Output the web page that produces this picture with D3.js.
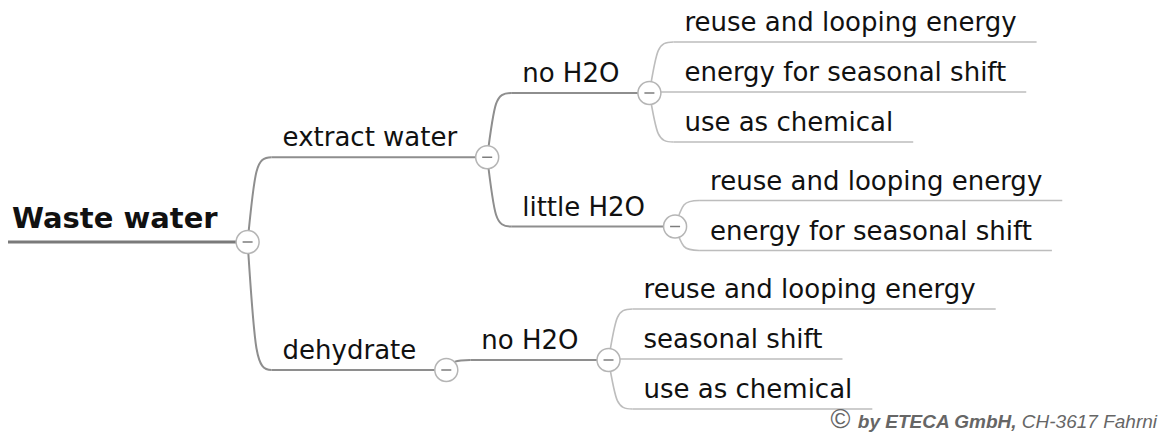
<!DOCTYPE html>
<html>
<head>
<meta charset="utf-8">
<script src="https://cdn.jsdelivr.net/npm/d3@7"></script>
<style>
  body { margin: 0; background: #fff; }
  svg { display: block; }
</style>
</head>
<body>
<div id="mindmap"></div>
<script>
// topic labels, one list per level
var rootLabel = "Waste water";
var mainTopics = ["extract water", "dehydrate"];
var subTopics = [["no H2O", "little H2O"], ["no H2O"]];
var leafTopics = [
  [["reuse and looping energy", "energy for seasonal shift", "use as chemical"],
   ["reuse and looping energy", "energy for seasonal shift"]],
  [["reuse and looping energy", "seasonal shift", "use as chemical"]]
];
var copyrightBold = "by ETECA GmbH,";
var copyrightRest = " CH-3617 Fahrni";

var width = 1162, height = 439;

var svg = d3.select("#mindmap")
  .append("svg")
    .attr("width", width)
    .attr("height", height);

// build the tree from the label lists
var treeData = {
  name: rootLabel,
  children: mainTopics.map(function(m, i) {
    return {
      name: m,
      children: subTopics[i].map(function(s, j) {
        return {
          name: s,
          children: leafTopics[i][j].map(function(l) { return {name: l}; })
        };
      })
    };
  })
};
var root = d3.hierarchy(treeData);

// leaves stacked in slots, small extra gap between sibling groups
var groupGap = 0.17;
var leaves = root.leaves();
var group = -1, lastParent = null;
leaves.forEach(function(d, i) {
  if (d.parent !== lastParent) { group++; lastParent = d.parent; }
  d.slot = i + group * groupGap;
});
var maxSlot = d3.max(leaves, function(d) { return d.slot; });
var y = d3.scaleLinear()
  .domain([0, maxSlot])
  .range([42, 42 + maxSlot * 50]);

// a parent sits centred on the block of its children, line at box bottom
var textH = 35;
var drop = [34, 28.5, 18.5];
root.eachAfter(function(d) {
  if (!d.children) { d.ly = y(d.slot); return; }
  var ls = d.leaves();
  var top = ls[0].ly - textH, bottom = ls[ls.length - 1].ly;
  d.ly = (top + bottom) / 2 + drop[d.depth];
});

var fontFamily = "'DejaVu Sans', sans-serif";
var gLinks = svg.append("g");
var gLines = svg.append("g");
var gNodes = svg.append("g");

// labels first so widths can be measured
var labels = gNodes.selectAll("text.topic")
  .data(root.descendants())
  .enter()
  .append("text")
    .attr("class", "topic")
    .style("font-family", fontFamily)
    .style("font-size", function(d) { return d.depth === 0 ? "29px" : "26px"; })
    .style("font-weight", function(d) { return d.depth === 0 ? "bold" : "normal"; })
    .attr("fill", "#111")
    .text(function(d) { return d.data.name; });

labels.each(function(d) { d.tw = this.getComputedTextLength(); });

// horizontal placement
var indent = 35, circleGap = 30, leafTail = 20, elbow = 24;
root.eachBefore(function(d) {
  if (d.depth === 0) {
    d.tx = 12;
    d.lx0 = 8;
  } else {
    d.tx = d.parent.cx + indent;
    d.lx0 = Math.abs(d.ly - d.parent.ly) < 2 ? d.parent.cx : d.parent.cx + elbow;
  }
  if (d.children) {
    d.cx = d.tx + d.tw + circleGap;
    d.lx1 = d.cx;
  } else {
    d.lx1 = d.tx + d.tw + leafTail;
  }
});

labels
  .attr("x", function(d) { return d.tx; })
  .attr("y", function(d) { return d.ly - (d.depth === 0 ? 14 : 11); });

// curved connectors from parent circle to child underline
gLinks.selectAll("path")
  .data(root.descendants().filter(function(d) { return d.parent; }))
  .enter()
  .append("path")
    .attr("fill", "none")
    .attr("stroke", function(d) { return d.children ? "#8e8e8e" : "#bdbdbd"; })
    .attr("stroke-width", function(d) { return d.children ? 2 : 1.6; })
    .attr("d", function(d) {
      var x0 = d.parent.cx, y0 = d.parent.ly, x1 = d.lx0, y1 = d.ly;
      if (x1 === x0) return "M" + x0 + "," + y0 + "L" + x0 + "," + y1;
      var w = x1 - x0;
      return "M" + x0 + "," + y0 +
        "C" + (x0 + 0.3 * w) + "," + (y1 + 0.12 * (y0 - y1)) +
        " " + (x0 + 0.35 * w) + "," + y1 +
        " " + x1 + "," + y1;
    });

// underlines
gLines.selectAll("line")
  .data(root.descendants())
  .enter()
  .append("line")
    .attr("x1", function(d) { return d.lx0; })
    .attr("x2", function(d) { return d.lx1; })
    .attr("y1", function(d) { return d.ly; })
    .attr("y2", function(d) { return d.ly; })
    .attr("stroke", function(d) {
      return d.depth === 0 ? "#7a7a7a" : (d.children ? "#8e8e8e" : "#bdbdbd");
    })
    .attr("stroke-width", function(d) { return d.depth === 0 ? 3 : (d.children ? 2 : 1.6); });

// collapse buttons
var buttons = gNodes.selectAll("g.btn")
  .data(root.descendants().filter(function(d) { return d.children; }))
  .enter()
  .append("g")
    .attr("class", "btn")
    .attr("transform", function(d) { return "translate(" + d.cx + "," + d.ly + ")"; });

buttons.append("circle")
  .attr("r", 11.5)
  .attr("fill", "#fff")
  .attr("stroke", "#b5b5b5")
  .attr("stroke-width", 1.5);

buttons.append("line")
  .attr("x1", -5).attr("x2", 5)
  .attr("stroke", "#7d7d7d")
  .attr("stroke-width", 1.5);

// copyright
var copy = svg.append("text")
  .attr("x", 1157)
  .attr("y", 428)
  .attr("text-anchor", "end")
  .style("font-family", "'Liberation Sans', Arial, sans-serif")
  .style("font-style", "italic")
  .style("font-size", "19px")
  .attr("fill", "#666");
copy.append("tspan")
  .style("font-style", "normal")
  .style("font-size", "27px")
  .text("\u00A9 ");
copy.append("tspan")
  .style("font-weight", "bold")
  .text(copyrightBold);
copy.append("tspan")
  .text(copyrightRest);
</script>
</body>
</html>
